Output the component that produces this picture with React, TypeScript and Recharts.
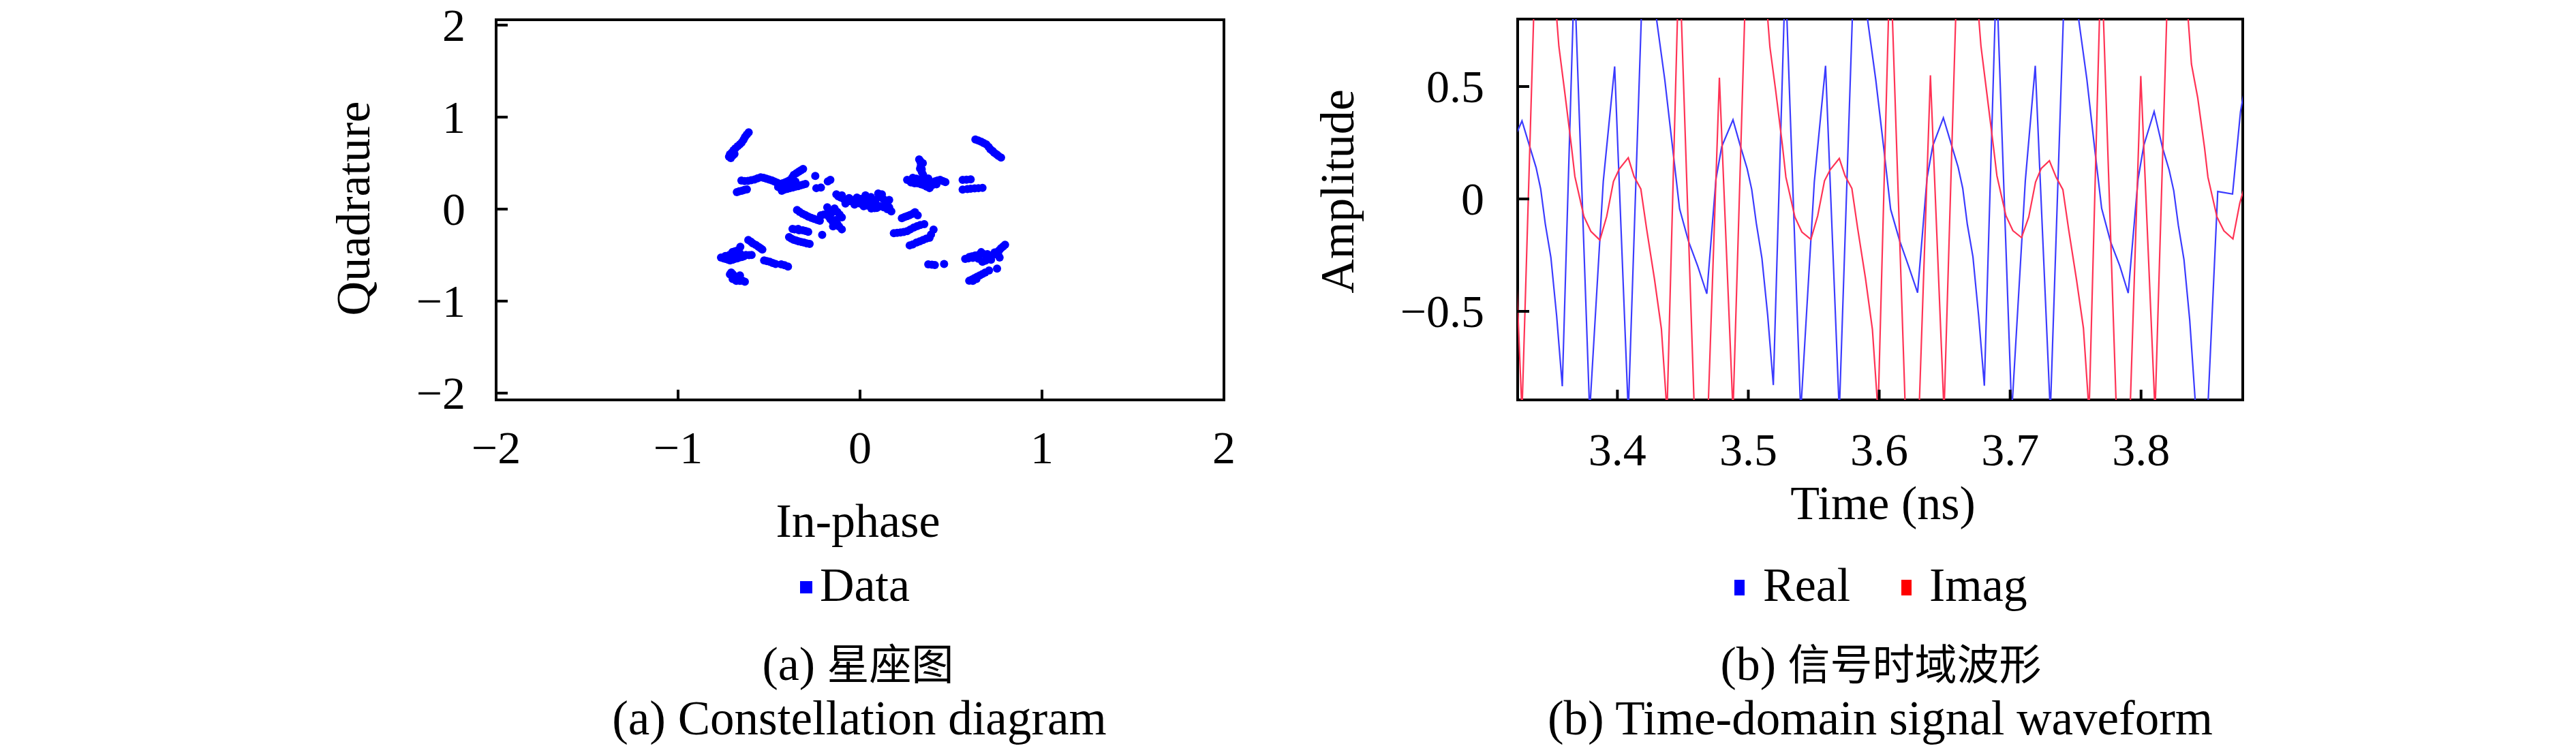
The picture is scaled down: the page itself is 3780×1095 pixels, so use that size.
import {
  Line,
  LineChart,
  ReferenceArea,
  Scatter,
  ScatterChart,
  XAxis,
  YAxis,
} from 'recharts';

const FONT = "'Liberation Serif', 'Noto Sans CJK SC', serif";
const CJK = "'Noto Sans CJK SC', sans-serif";

// constellation clusters, [in-phase, quadrature]
const arcUpperLeft = [
  [-0.72, 0.57], [-0.71, 0.555], [-0.715, 0.595], [-0.705, 0.615], [-0.695, 0.64],
  [-0.685, 0.66], [-0.672, 0.685], [-0.66, 0.705], [-0.65, 0.725], [-0.64, 0.755],
  [-0.632, 0.785], [-0.622, 0.81], [-0.612, 0.835], [-0.7, 0.58], [-0.69, 0.6],
];
const bandUpperLeft = [
  [-0.652, 0.311], [-0.634, 0.305], [-0.616, 0.306], [-0.598, 0.314], [-0.58, 0.322],
  [-0.563, 0.334], [-0.546, 0.345], [-0.53, 0.34], [-0.515, 0.33], [-0.5, 0.322],
  [-0.485, 0.312], [-0.47, 0.3], [-0.455, 0.287], [-0.44, 0.275], [-0.425, 0.28],
  [-0.41, 0.292], [-0.395, 0.305], [-0.382, 0.32], [-0.372, 0.345], [-0.364, 0.372],
  [-0.35, 0.39], [-0.337, 0.407], [-0.325, 0.422], [-0.313, 0.436],
  [-0.677, 0.184], [-0.664, 0.193], [-0.65, 0.2], [-0.636, 0.208], [-0.622, 0.214],
  [-0.43, 0.2], [-0.415, 0.212], [-0.4, 0.22], [-0.385, 0.228], [-0.37, 0.235],
  [-0.355, 0.243], [-0.34, 0.25], [-0.326, 0.258], [-0.313, 0.266], [-0.3, 0.274],
  [-0.45, 0.24], [-0.43, 0.25], [-0.41, 0.26], [-0.39, 0.275], [-0.37, 0.29], [-0.355, 0.3],
  [-0.246, 0.361], [-0.24, 0.228], [-0.215, 0.234], [-0.177, 0.302], [-0.163, 0.317],
];
const midLeft = [
  [-0.346, -0.009], [-0.332, -0.03], [-0.316, -0.05], [-0.3, -0.066], [-0.284, -0.082],
  [-0.268, -0.095], [-0.252, -0.107], [-0.236, -0.117], [-0.221, -0.127],
  [-0.215, -0.068], [-0.2, -0.06], [-0.184, -0.053], [-0.171, -0.083], [-0.163, -0.11],
  [-0.18, 0.02], [-0.17, -0.02], [-0.16, -0.05], [-0.15, -0.14], [-0.14, -0.165],
  [-0.14, 0.006], [-0.125, -0.03], [-0.112, -0.06], [-0.1, -0.09], [-0.135, -0.12],
  [-0.148, -0.187], [-0.125, -0.16], [-0.115, -0.19], [-0.1, -0.22],
  [-0.371, -0.216], [-0.36, -0.22], [-0.34, -0.215], [-0.335, -0.23],
  [-0.315, -0.231], [-0.3, -0.238], [-0.285, -0.246], [-0.208, -0.281],
  [-0.39, -0.305], [-0.377, -0.32], [-0.364, -0.334], [-0.351, -0.342], [-0.338, -0.35],
  [-0.323, -0.357], [-0.308, -0.364], [-0.293, -0.372], [-0.277, -0.379],
];
const lowerLeft = [
  [-0.764, -0.527], [-0.75, -0.535], [-0.739, -0.542], [-0.725, -0.55], [-0.714, -0.557],
  [-0.7, -0.55], [-0.689, -0.542], [-0.675, -0.535], [-0.664, -0.527], [-0.65, -0.52],
  [-0.639, -0.513], [-0.627, -0.498], [-0.61, -0.5], [-0.596, -0.498], [-0.702, -0.468],
  [-0.689, -0.46], [-0.677, -0.453], [-0.658, -0.409], [-0.72, -0.5], [-0.7, -0.51],
  [-0.74, -0.51], [-0.68, -0.49], [-0.66, -0.48],
  [-0.72, -0.53], [-0.7, -0.53], [-0.68, -0.52], [-0.66, -0.5],
  [-0.614, -0.335], [-0.6, -0.355], [-0.589, -0.373], [-0.573, -0.39], [-0.558, -0.409],
  [-0.547, -0.425], [-0.537, -0.439],
  [-0.527, -0.557], [-0.512, -0.565], [-0.496, -0.572], [-0.48, -0.585], [-0.464, -0.596],
  [-0.433, -0.601], [-0.415, -0.61], [-0.396, -0.625],
  [-0.708, -0.69], [-0.7, -0.705], [-0.695, -0.72], [-0.683, -0.735], [-0.67, -0.75],
  [-0.658, -0.764], [-0.645, -0.779], [-0.633, -0.79], [-0.69, -0.75], [-0.675, -0.765],
  [-0.715, -0.71], [-0.66, -0.72], [-0.7, -0.76], [-0.68, -0.78], [-0.66, -0.78],
];
const centre = [
  [-0.119, 0.139], [-0.105, 0.125], [-0.09, 0.11], [-0.072, 0.098], [-0.054, 0.086],
  [-0.035, 0.1], [-0.017, 0.125], [0.0, 0.11], [0.012, 0.11], [0.027, 0.095],
  [0.041, 0.065], [0.055, 0.07], [0.07, 0.08], [0.085, 0.1], [0.106, 0.139],
  [0.118, 0.125], [0.128, 0.11], [0.14, 0.085], [0.15, 0.065], [0.16, 0.02],
  [0.172, -0.024], [0.062, 0.006], [0.08, 0.01], [0.092, 0.012], [0.0, 0.06],
  [0.02, 0.03], [-0.03, 0.05],
  [-0.13, 0.16], [-0.1, 0.15], [-0.06, 0.12], [0.03, 0.15], [0.06, 0.13],
  [0.1, 0.17], [0.12, 0.16], [0.09, 0.05], [0.11, 0.03], [0.13, 0.02],
  [-0.08, 0.06], [0.04, 0.04], [0.15, 0.0], [0.16, 0.1],
];
const midRight = [
  [0.23, -0.098], [0.245, -0.085], [0.259, -0.077], [0.273, -0.065], [0.29, -0.05],
  [0.302, -0.033], [0.317, -0.068],
  [0.186, -0.261], [0.204, -0.258], [0.222, -0.255], [0.24, -0.248], [0.259, -0.24],
  [0.277, -0.22], [0.295, -0.201], [0.313, -0.186], [0.331, -0.172], [0.353, -0.163],
  [0.273, -0.394], [0.29, -0.384], [0.31, -0.364], [0.328, -0.35], [0.346, -0.335],
  [0.364, -0.32], [0.382, -0.311],
  [0.404, -0.222], [0.39, -0.276],
];
const upperRightBlob = [
  [0.325, 0.54], [0.331, 0.524], [0.334, 0.5], [0.334, 0.465], [0.339, 0.435],
  [0.339, 0.406], [0.346, 0.376], [0.346, 0.347], [0.33, 0.44], [0.345, 0.5],
  [0.259, 0.317], [0.275, 0.305], [0.288, 0.302], [0.303, 0.29], [0.317, 0.281],
  [0.335, 0.27], [0.353, 0.258], [0.367, 0.243], [0.382, 0.228], [0.397, 0.26],
  [0.411, 0.302], [0.425, 0.31], [0.44, 0.317], [0.455, 0.305], [0.469, 0.293],
  [0.375, 0.332], [0.36, 0.33], [0.29, 0.34], [0.31, 0.33],
  [0.3, 0.28], [0.32, 0.3], [0.34, 0.31], [0.36, 0.28], [0.28, 0.29], [0.4, 0.28], [0.42, 0.27],
];
const rightPair = [
  [0.564, 0.317], [0.585, 0.32], [0.608, 0.323], [0.564, 0.213], [0.59, 0.218],
  [0.608, 0.222], [0.63, 0.225], [0.651, 0.228], [0.673, 0.23],
];
const arcUpperRight = [
  [0.634, 0.756], [0.65, 0.745], [0.666, 0.732], [0.68, 0.718], [0.695, 0.702],
  [0.707, 0.675], [0.717, 0.649], [0.728, 0.632], [0.738, 0.613], [0.75, 0.595],
  [0.76, 0.578], [0.775, 0.56],
];
const lowerRightPair = [[0.375, -0.601], [0.395, -0.604], [0.411, -0.607], [0.462, -0.596]];
const lowerRight = [
  [0.578, -0.542], [0.595, -0.535], [0.615, -0.513], [0.633, -0.505], [0.651, -0.498],
  [0.666, -0.468], [0.68, -0.49], [0.695, -0.513], [0.713, -0.505], [0.731, -0.498],
  [0.743, -0.483], [0.753, -0.468], [0.765, -0.446], [0.775, -0.424], [0.787, -0.406],
  [0.797, -0.388], [0.673, -0.572], [0.69, -0.56], [0.709, -0.542], [0.767, -0.527],
  [0.753, -0.646], [0.65, -0.54], [0.72, -0.55],
  [0.6, -0.52], [0.62, -0.53], [0.64, -0.52], [0.7, -0.49], [0.74, -0.47], [0.76, -0.5],
  [0.6, -0.779], [0.615, -0.765], [0.629, -0.75], [0.643, -0.735], [0.658, -0.72],
  [0.673, -0.705], [0.688, -0.69], [0.709, -0.667], [0.62, -0.78], [0.64, -0.76],
];

// waveform vertices, [time ns, amplitude]
const realPoints = [
  [3.3185, 0.233], [3.3271, 0.347], [3.3327, 0.239], [3.3379, 0.139], [3.3414, 0.044],
  [3.3449, -0.111], [3.3492, -0.261], [3.3536, -0.522], [3.3579, -0.833], [3.3671, 1.0],
  [3.3788, -0.95], [3.3892, 0.078], [3.3979, 0.589], [3.4083, -0.95], [3.4205, 1.2],
  [3.4362, 0.53], [3.4423, 0.22], [3.4475, -0.044], [3.4544, -0.19], [3.4614, -0.3],
  [3.4683, -0.422], [3.4753, 0.089], [3.4797, 0.233],
  [3.4883, 0.352], [3.4939, 0.236], [3.4991, 0.135], [3.5026, 0.042], [3.5061, -0.108],
  [3.5104, -0.264], [3.5148, -0.518], [3.5191, -0.828], [3.5283, 1.0], [3.54, -0.95],
  [3.5504, 0.075], [3.559, 0.592], [3.5695, -0.95], [3.5817, 1.2], [3.5974, 0.528],
  [3.6035, 0.224], [3.6087, -0.046], [3.6156, -0.186], [3.6226, -0.302], [3.6293, -0.417],
  [3.6365, 0.092], [3.6409, 0.236],
  [3.649, 0.361], [3.6551, 0.242], [3.6603, 0.141], [3.6638, 0.047], [3.6673, -0.113],
  [3.6716, -0.258], [3.676, -0.525], [3.6803, -0.831], [3.6895, 1.0], [3.7012, -0.95],
  [3.7116, 0.081], [3.7192, 0.592], [3.7307, -0.95], [3.7429, 1.2], [3.7586, 0.533],
  [3.7647, 0.218], [3.7699, -0.042], [3.7768, -0.192], [3.7838, -0.298], [3.7902, -0.419],
  [3.7977, 0.087], [3.8021, 0.238],
  [3.81, 0.389], [3.8165, 0.226], [3.8215, 0.128], [3.825, 0.036], [3.8285, -0.118],
  [3.8328, -0.27], [3.8372, -0.54], [3.842, -0.95], [3.8508, -0.96], [3.8586, 0.033],
  [3.8699, 0.022], [3.876, 0.389], [3.88, 0.52],
];
const imagPoints = [
  [3.3167, 0.539], [3.3271, -0.95], [3.337, 1.0], [3.3483, 1.2], [3.3553, 0.678],
  [3.3597, 0.478], [3.3649, 0.233], [3.3675, 0.1], [3.3744, -0.078], [3.3797, -0.144],
  [3.3866, -0.183], [3.3918, -0.078], [3.397, 0.078], [3.4014, 0.133], [3.4083, 0.183],
  [3.4127, 0.1], [3.4179, 0.044], [3.4223, -0.133], [3.4283, -0.356], [3.4336, -0.578],
  [3.4379, -0.95], [3.4472, 1.1], [3.4588, -0.95], [3.4692, -0.95], [3.4779, 0.539],
  [3.4883, -0.95], [3.4982, 1.0], [3.5095, 1.2], [3.5165, 0.675], [3.5209, 0.482],
  [3.5261, 0.236], [3.5287, 0.097], [3.5356, -0.081], [3.5409, -0.147], [3.5478, -0.18],
  [3.553, -0.075], [3.5582, 0.081], [3.5626, 0.13], [3.5695, 0.18], [3.5739, 0.103],
  [3.5791, 0.047], [3.5835, -0.13], [3.5895, -0.353], [3.5948, -0.581], [3.5991, -0.95],
  [3.6084, 1.1], [3.62, -0.95], [3.6304, -0.95], [3.6391, 0.55],
  [3.6495, -0.95], [3.6594, 1.0], [3.6707, 1.2], [3.6777, 0.681], [3.6821, 0.475],
  [3.6873, 0.23], [3.6899, 0.103], [3.6968, -0.075], [3.7021, -0.141], [3.7087, -0.172],
  [3.7142, -0.081], [3.7194, 0.075], [3.7238, 0.136], [3.73, 0.17], [3.7351, 0.097],
  [3.7403, 0.041], [3.7447, -0.136], [3.7507, -0.359], [3.756, -0.575], [3.7603, -0.95],
  [3.7696, 1.1], [3.7812, -0.95], [3.7916, -0.95], [3.7998, 0.547],
  [3.8107, -0.95], [3.8206, 1.0], [3.831, 1.2], [3.8385, 0.6], [3.8433, 0.45],
  [3.8485, 0.228], [3.8511, 0.097], [3.858, -0.08], [3.8633, -0.142], [3.8702, -0.178],
  [3.8754, -0.02], [3.8806, 0.09],
];

const iqTicks = [-2, -1, 0, 1, 2];
const ampTicks = [-0.5, 0, 0.5];
const timeTicks = [3.4, 3.5, 3.6, 3.7, 3.8];

const constellation = [
  ...arcUpperLeft, ...bandUpperLeft, ...midLeft, ...lowerLeft, ...centre,
  ...midRight, ...upperRightBlob, ...rightPair, ...arcUpperRight, ...lowerRightPair, ...lowerRight,
].map(([i, q]) => ({ i, q }));
const realData = realPoints.map(([t, v]) => ({ t, v }));
const imagData = imagPoints.map(([t, v]) => ({ t, v }));

const fmt = (v: number) => (v < 0 ? '\u2212' + Math.abs(v) : String(v));

function bottomTick(labelDy: number) {
  return (props: any) => {
    const { x, y, payload } = props;
    return (
      <g>
        <line x1={x} x2={x} y1={y} y2={y - 15} stroke="#000" strokeWidth={4} />
        <text x={x} y={y + labelDy} textAnchor="middle" fontFamily={FONT} fontSize={68} fill="#000">
          {fmt(payload.value)}
        </text>
      </g>
    );
  };
}

function leftTick(labelGap: number) {
  return (props: any) => {
    const { x, y, payload } = props;
    return (
      <g>
        <line x1={x} x2={x + 17} y1={y} y2={y} stroke="#000" strokeWidth={4} />
        <text x={x - labelGap} y={y + 23} textAnchor="end" fontFamily={FONT} fontSize={68} fill="#000">
          {fmt(payload.value)}
        </text>
      </g>
    );
  };
}

const dotShape = (p: any) => <circle cx={p.cx} cy={p.cy} r={6} fill="#0000ff" />;

function Constellation() {
  return (
    <ScatterChart width={1900} height={720} margin={{ top: 29, left: 668, right: 104, bottom: 73 }}>
      <XAxis
        type="number"
        dataKey="i"
        domain={[-2, 2]}
        ticks={iqTicks}
        interval={0}
        allowDataOverflow
        height={60}
        tickSize={0}
        tickMargin={0}
        tickLine={false}
        axisLine={false}
        tick={bottomTick(93)}
      />
      <YAxis
        type="number"
        dataKey="q"
        domain={[-2.074, 2.058]}
        ticks={iqTicks}
        interval={0}
        allowDataOverflow
        width={60}
        tickSize={0}
        tickMargin={0}
        tickLine={false}
        axisLine={false}
        tick={leftTick(45)}
      />
      <Scatter data={constellation} shape={dotShape} isAnimationActive={false} />
      <ReferenceArea x1={-2} x2={2} y1={-2.074} y2={2.058} fill="none" stroke="#000" strokeWidth={4} ifOverflow="visible" />
    </ScatterChart>
  );
}

function Waveform() {
  return (
    <LineChart width={1880} height={720} margin={{ top: 28, left: 267, right: 489, bottom: 73 }}>
      <XAxis
        type="number"
        dataKey="t"
        domain={[3.3238, 3.8777]}
        ticks={timeTicks}
        interval={0}
        allowDataOverflow
        height={60}
        tickSize={0}
        tickMargin={0}
        tickLine={false}
        axisLine={false}
        tick={bottomTick(96)}
      />
      <YAxis
        type="number"
        domain={[-0.894, 0.8]}
        ticks={ampTicks}
        interval={0}
        allowDataOverflow
        width={60}
        tickSize={0}
        tickMargin={0}
        tickLine={false}
        axisLine={false}
        tick={leftTick(49)}
      />
      <Line data={realData} dataKey="v" type="linear" stroke="#3b3bff" strokeWidth={2.2} dot={false} isAnimationActive={false} />
      <Line data={imagData} dataKey="v" type="linear" stroke="#ff3355" strokeWidth={2.2} dot={false} isAnimationActive={false} />
      <ReferenceArea x1={3.3238} x2={3.8777} y1={-0.894} y2={0.8} fill="none" stroke="#000" strokeWidth={4} ifOverflow="visible" />
    </LineChart>
  );
}

export default function App() {
  const txt = { fontFamily: FONT, fill: '#000' };
  return (
    <div style={{ position: 'absolute', left: 0, top: 0, width: 3780, height: 1095, background: '#fff' }}>
      <div style={{ position: 'absolute', left: 0, top: 0 }}>
        <Constellation />
      </div>
      <div style={{ position: 'absolute', left: 1900, top: 0 }}>
        <Waveform />
      </div>
      <svg width={3780} height={1095} style={{ position: 'absolute', left: 0, top: 0, pointerEvents: 'none' }}>
        <text {...txt} fontSize={70} textAnchor="middle" transform="translate(542 306) rotate(-90)">Quadrature</text>
        <text {...txt} fontSize={70} textAnchor="middle" x={1259} y={788}>In-phase</text>
        <rect x={1174} y={853} width={18} height={18} fill="#0000ff" />
        <text {...txt} fontSize={70} x={1203} y={882}>Data</text>
        <text {...txt} fontSize={70} textAnchor="middle" x={1259} y={998}>
          (a) <tspan fontFamily={CJK} fontSize={62}>星座图</tspan>
        </text>
        <text {...txt} fontSize={71} textAnchor="middle" x={1261} y={1078}>(a) Constellation diagram</text>

        <text {...txt} fontSize={70} textAnchor="middle" transform="translate(1986 281) rotate(-90)">Amplitude</text>
        <text {...txt} fontSize={70} textAnchor="middle" x={2763} y={762}>Time (ns)</text>
        <rect x={2545} y={851} width={15} height={23} fill="#0000ff" />
        <text {...txt} fontSize={70} x={2587} y={882}>Real</text>
        <rect x={2790} y={851} width={15} height={23} fill="#ff0000" />
        <text {...txt} fontSize={70} x={2831} y={882}>Imag</text>
        <text {...txt} fontSize={70} textAnchor="middle" x={2760} y={998}>
          (b) <tspan fontFamily={CJK} fontSize={62}>信号时域波形</tspan>
        </text>
        <text {...txt} fontSize={71} textAnchor="middle" x={2759} y={1078}>(b) Time-domain signal waveform</text>
      </svg>
    </div>
  );
}
